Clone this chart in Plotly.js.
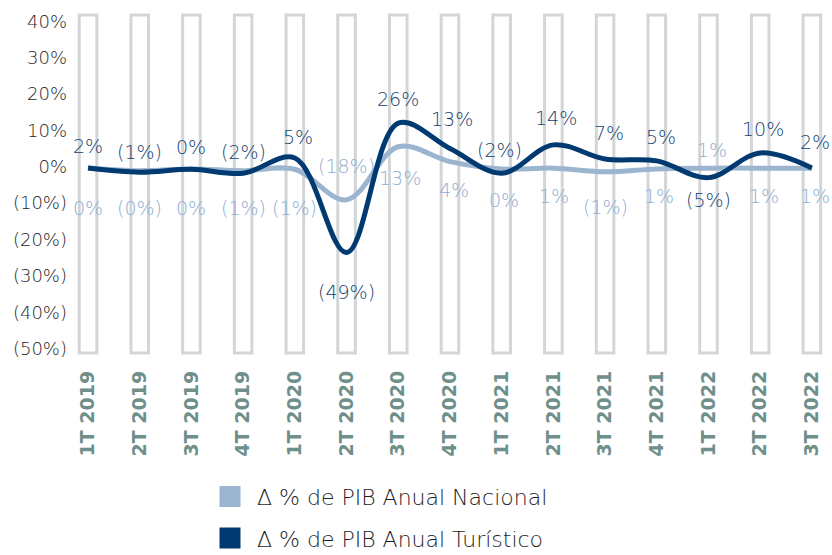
<!DOCTYPE html>
<html>
<head>
<meta charset="utf-8">
<script src="https://cdn.plot.ly/plotly-3.0.1.min.js"></script>
<style>
html,body{margin:0;padding:0;background:#fff;}
#chart{width:832px;height:555px;}
</style>
</head>
<body>
<div id="chart"></div>
<script>
// ---- data ----
const categories = ["1T 2019","2T 2019","3T 2019","4T 2019","1T 2020","2T 2020","3T 2020","4T 2020","1T 2021","2T 2021","3T 2021","4T 2021","1T 2022","2T 2022","3T 2022"];
// plotted positions (percent)
const nacionalValues = [-0.35,-1.1,-0.6,-1.1,-0.7,-9.1,5.5,1.4,-0.6,-0.4,-1.4,-0.6,-0.4,-0.4,-0.4];
const turisticoValues = [-0.35,-1.5,-0.7,-1.8,2.4,-23.6,12.0,5.0,-1.8,6.0,2.1,1.6,-3.0,3.8,-0.35];
// data label texts as printed on the chart
const nacionalLabels = ["0%","(0%)","0%","(1%)","(1%)","(18%)","13%","4%","0%","1%","(1%)","1%","1%","1%","1%"];
const turisticoLabels = ["2%","(1%)","0%","(2%)","5%","(49%)","26%","13%","(2%)","14%","7%","5%","(5%)","10%","2%"];
const yTickVals = [-50,-40,-30,-20,-10,0,10,20,30,40];
const yTickText = ["(50%)","(40%)","(30%)","(20%)","(10%)","0%","10%","20%","30%","40%"];
const seriesNames = ["\u0394 % de PIB Anual Nacional","\u0394 % de PIB Anual Tur\u00edstico"];

// ---- styles / label offsets (pixels) ----
const lightColor = "#9bb4cf";
const darkColor = "#003a70";
const lightText = "#8eaed3";
const darkText = "#143f72";
const thinFont = "DejaVu Sans";
const nacionalShift = [-40,-37,-39,-37,-39,34,-31,-28,-31,-28,-35,-27,18,-28,-28];
const nacionalXShift = [0,0,0,0,0,0,2,4,2,1,0,2,4,4,3];
const turisticoShift = [22,20,22,21,21,-39,24,30,23,27,26,24,-22,24,26];
const turisticoXShift = [0,0,0,0,3,0,0,2,-2,3,4,4,0,3,3];

const idx = categories.map((c,i)=>i);

const traces = [
  {x: categories, y: nacionalValues, type:"scatter", mode:"lines",
   line:{color:lightColor, width:5, shape:"spline", smoothing:1}, showlegend:false, hoverinfo:"skip"},
  {x: categories, y: turisticoValues, type:"scatter", mode:"lines",
   line:{color:darkColor, width:5, shape:"spline", smoothing:1}, showlegend:false, hoverinfo:"skip"},
  {x:[null], y:[null], type:"scatter", mode:"markers", name:seriesNames[0], legendgroup:"a",
   marker:{symbol:"square", size:16, color:lightColor, line:{color:lightColor, width:5}}},
  {x:[null], y:[null], type:"scatter", mode:"markers", name:seriesNames[1], legendgroup:"b",
   marker:{symbol:"square", size:16, color:darkColor, line:{color:darkColor, width:5}}}
];

const shapes = idx.map(i => ({
  type:"rect", xref:"x", yref:"paper", x0:i-0.17, x1:i+0.17, y0:0, y1:1,
  line:{color:"#d3d6d6", width:3}, fillcolor:"rgba(255,255,255,0)", layer:"below"
}));

const annotations = [];
idx.forEach(i => {
  annotations.push({x:categories[i], y:nacionalValues[i], text:nacionalLabels[i], showarrow:false,
    yshift:nacionalShift[i], xshift:nacionalXShift[i], font:{family:thinFont, size:19, color:lightText, weight:200}});
});
idx.forEach(i => {
  annotations.push({x:categories[i], y:turisticoValues[i], text:turisticoLabels[i], showarrow:false,
    yshift:turisticoShift[i], xshift:turisticoXShift[i], font:{family:thinFont, size:19, color:darkText, weight:200}});
});

const layout = {
  width:832, height:555,
  margin:{l:72, r:2, t:15, b:202, autoexpand:false},
  paper_bgcolor:"#ffffff", plot_bgcolor:"#ffffff",
  xaxis:{type:"category", categoryorder:"array", categoryarray:categories, automargin:false,
    range:[-0.31,14.35], showgrid:false, zeroline:false, showline:false, ticks:"",
    tickangle:-90, ticklabelstandoff:13,
    tickfont:{family:"DejaVu Sans", size:19, color:"#6e8f8a", weight:"bold"}},
  yaxis:{range:[-51.2,41.7], tickvals:yTickVals, ticktext:yTickText, showgrid:false, automargin:false,
    zeroline:false, showline:false, ticks:"", ticklabelstandoff:4,
    tickfont:{family:thinFont, size:18, color:"#1e1e1e", weight:200}},
  shapes: shapes,
  annotations: annotations,
  showlegend:true,
  legend:{orientation:"v", xref:"container", yref:"container", x:0.244, xanchor:"left", y:0.143, yanchor:"top",
    itemwidth:44, tracegroupgap:10, font:{family:thinFont, size:22, color:"#1e1e1e", weight:200}}
};

Plotly.newPlot("chart", traces, layout, {staticPlot:true});
</script>
</body>
</html>
